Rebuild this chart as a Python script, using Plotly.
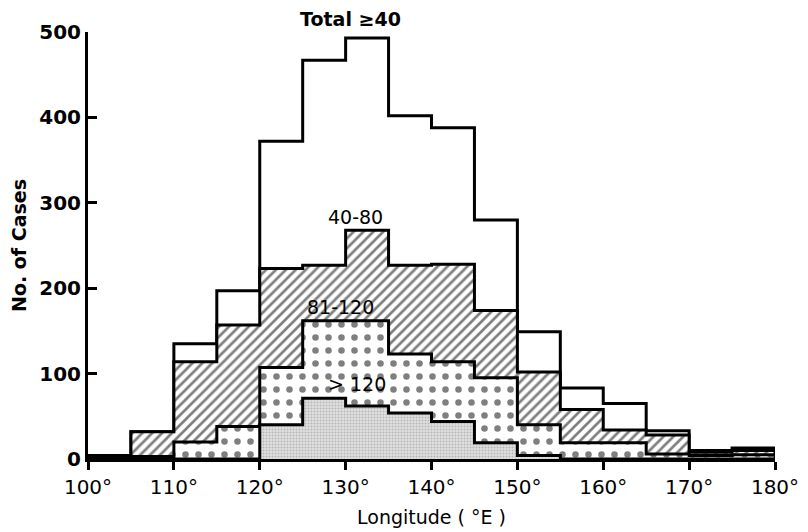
import plotly.graph_objects as go

# 5-degree longitude bins, 100°E to 180°E (left edges)
bin_left = [100, 105, 110, 115, 120, 125, 130, 135, 140, 145, 150, 155, 160, 165, 170, 175]
bin_right_end = 180

# Number of cases per bin for each intensity class
total_ge40 = [4, 32, 135, 197, 372, 467, 493, 402, 388, 280, 149, 83, 65, 33, 10, 13]
cls_40_80 = [2, 32, 114, 157, 223, 227, 268, 227, 228, 174, 102, 58, 34, 28, 8, 10]
cls_81_120 = [1, 3, 20, 38, 107, 162, 162, 123, 114, 95, 40, 19, 19, 6, 4, 5]
cls_gt120 = [0, 0, 0, 0, 40, 71, 62, 54, 44, 19, 4, 0, 0, 0, 0, 0]

x_ticks = [100, 110, 120, 130, 140, 150, 160, 170, 180]
x_ticklabels = [f"{v}°" for v in x_ticks]
y_ticks = [0, 100, 200, 300, 400, 500]


def step_xy(values):
    xs = [bin_left[0]] + bin_left + [bin_right_end, bin_right_end]
    ys = [0] + values + [values[-1], 0]
    return xs, ys


fig = go.Figure()

layers = [
    (total_ge40, dict(fillcolor="white")),
    (cls_40_80, dict(fillcolor="white",
                     fillpattern=dict(shape="/", size=7, solidity=0.38,
                                      fgcolor="black", bgcolor="white"))),
    (cls_81_120, dict(fillcolor="white",
                      fillpattern=dict(shape=".", size=13, solidity=0.2,
                                       fgcolor="black", bgcolor="white"))),
    (cls_gt120, dict(fillcolor="#d6d6d6",
                     fillpattern=dict(shape=".", size=3, solidity=0.4,
                                      fgcolor="#8a8a8a", bgcolor="#e2e2e2"))),
]

for vals, style in layers:
    xs, ys = step_xy(vals)
    fig.add_trace(go.Scatter(
        x=xs, y=ys, mode="lines", line=dict(shape="hv", color="black", width=3),
        fill="tozeroy", showlegend=False, hoverinfo="skip", **style))

label_font = dict(family="DejaVu Sans", size=19, color="black")
fig.add_annotation(x=130.6, y=1.03, yref="paper", yanchor="middle", text="Total ≥40",
                   showarrow=False, font=dict(label_font, weight="bold"))
fig.add_annotation(x=131.1, y=283, text="40-80", showarrow=False, font=label_font)
fig.add_annotation(x=129.4, y=178, text="81-120", showarrow=False, font=label_font)
fig.add_annotation(x=131.3, y=88, text="> 120", showarrow=False, font=label_font)

fig.update_layout(
    width=808, height=532,
    margin=dict(l=88, r=33, t=32, b=73),
    paper_bgcolor="white", plot_bgcolor="white",
    font=dict(family="DejaVu Sans", color="black"),
)

fig.update_xaxes(
    range=[100, 180], tickvals=x_ticks, ticktext=x_ticklabels,
    showgrid=False, zeroline=False, showline=True, linecolor="black", linewidth=3,
    ticks="outside", ticklen=8, tickwidth=2.5, tickcolor="black",
    tickfont=dict(family="DejaVu Sans", size=20),
    title=dict(text="Longitude ( °E )", font=dict(family="DejaVu Sans", size=19), standoff=13),
    automargin=False,
)
fig.update_yaxes(
    range=[0, 500], tickvals=y_ticks,
    showgrid=False, zeroline=False, showline=True, linecolor="black", linewidth=3,
    ticks="inside", ticklen=9, tickwidth=2.5, tickcolor="black",
    tickfont=dict(family="DejaVu Sans", size=20, weight="bold"),
    title=dict(text="No. of Cases", font=dict(family="DejaVu Sans", size=19, weight="bold"), standoff=8),
    automargin=False,
)

fig.write_html("out.html")
